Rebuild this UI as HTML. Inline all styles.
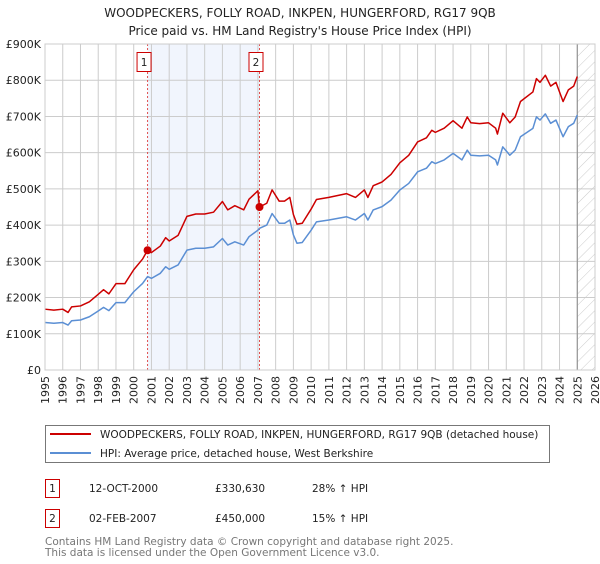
<!DOCTYPE html>
<html><head><meta charset="utf-8"><style>
body{margin:0;background:#fff;font-family:"DejaVu Sans","Liberation Sans",sans-serif;}
svg text{font-family:"DejaVu Sans","Liberation Sans",sans-serif;}
</style></head><body>
<svg id="chart" width="600" height="560" xmlns="http://www.w3.org/2000/svg">
<defs><pattern id="hatch" patternUnits="userSpaceOnUse" width="8" height="8" patternTransform="rotate(45)"><line x1="0" y1="0" x2="0" y2="8" stroke="#ccc" stroke-width="1"/></pattern></defs>
<text x="300" y="17" font-size="12" text-anchor="middle" fill="#222">WOODPECKERS, FOLLY ROAD, INKPEN, HUNGERFORD, RG17 9QB</text>
<text x="300" y="35" font-size="12" text-anchor="middle" fill="#222">Price paid vs. HM Land Registry's House Price Index (HPI)</text>
<g id="plot"></g>
<g>
<rect x="45.5" y="425.5" width="504" height="37" fill="#fff" stroke="#777"/>
<line x1="50" y1="434" x2="91" y2="434" stroke="#cc0000" stroke-width="2"/>
<text x="100" y="438" font-size="10.5" fill="#222">WOODPECKERS, FOLLY ROAD, INKPEN, HUNGERFORD, RG17 9QB (detached house)</text>
<line x1="50" y1="453" x2="91" y2="453" stroke="#5b8fd4" stroke-width="2"/>
<text x="100" y="457" font-size="10.5" fill="#222">HPI: Average price, detached house, West Berkshire</text>
</g>
<g font-size="10.5" fill="#222">
<rect x="45.5" y="479.5" width="14" height="18" fill="#fff" stroke="#cc0000"/>
<text x="52.5" y="492" text-anchor="middle">1</text>
<text x="89" y="492">12-OCT-2000</text><text x="215" y="492">£330,630</text><text x="312" y="492">28% ↑ HPI</text>
</g>
<g font-size="10.5" fill="#222">
<rect x="45.5" y="509.5" width="14" height="18" fill="#fff" stroke="#cc0000"/>
<text x="52.5" y="522" text-anchor="middle">2</text>
<text x="89" y="522">02-FEB-2007</text><text x="215" y="522">£450,000</text><text x="312" y="522">15% ↑ HPI</text>
</g>
<text x="45" y="545" font-size="10.5" fill="#777">Contains HM Land Registry data © Crown copyright and database right 2025.</text>
<text x="45" y="556" font-size="10.5" fill="#777">This data is licensed under the Open Government Licence v3.0.</text>
</svg>
<script>
const hpiYears=[1995,1995.5,1996,1996.3,1996.5,1997,1997.5,1998,1998.3,1998.6,1999,1999.5,2000,2000.5,2000.78,2001,2001.5,2001.8,2002,2002.5,2003,2003.5,2004,2004.5,2005,2005.3,2005.7,2006.2,2006.5,2007,2007.09,2007.5,2007.8,2008.2,2008.5,2008.8,2009,2009.2,2009.5,2010,2010.3,2011,2012,2012.5,2013,2013.2,2013.5,2014,2014.5,2015,2015.5,2016,2016.5,2016.8,2017,2017.5,2018,2018.5,2018.8,2019,2019.5,2020,2020.4,2020.5,2020.8,2021.2,2021.5,2021.8,2022.5,2022.7,2022.9,2023.2,2023.5,2023.8,2024.2,2024.5,2024.8,2025];
const hpiValues=[131,129,131,124,136,138,147,163,173,164,186,186,216,239,258,253,267,285,278,290,331,336,336,340,363,345,354,345,368,386,391,400,432,405,405,414,373,350,352,386,409,414,423,414,432,414,442,451,469,497,515,547,557,575,570,580,598,580,607,593,591,593,580,566,616,593,607,644,667,699,690,707,681,690,644,672,681,704];
const saleYears=[2000.78,2007.09];
const salePrices=[330.63,450];
const saleLabels=["1","2"];
const yTicks=[0,100,200,300,400,500,600,700,800,900];
const yTickLabels=["£0","£100K","£200K","£300K","£400K","£500K","£600K","£700K","£800K","£900K"];
const xTicks=[1995,1996,1997,1998,1999,2000,2001,2002,2003,2004,2005,2006,2007,2008,2009,2010,2011,2012,2013,2014,2015,2016,2017,2018,2019,2020,2021,2022,2023,2024,2025,2026];
const dataEnd=2025.0;

const L=45,R=595,T=44,B=370,X0=1995,X1=2026,YMAX=900;
const xs=v=>L+(v-X0)/(X1-X0)*(R-L);
const ys=v=>B-v/YMAX*(B-T);
const NS="http://www.w3.org/2000/svg";
const g=document.getElementById('plot');
function el(t,a,p){const e=document.createElementNS(NS,t);for(const k in a)e.setAttribute(k,a[k]);(p||g).appendChild(e);return e;}

let e=el('rect',{x:xs(saleYears[0]),y:T,width:xs(saleYears[1])-xs(saleYears[0]),height:B-T,fill:'#f1f5fd'});


e=el('rect',{x:xs(dataEnd),y:T,width:R-xs(dataEnd),height:B-T,fill:'url(#hatch)'});


yTicks.forEach((v,i)=>{
  el('line',{x1:L,x2:R,y1:ys(v),y2:ys(v),stroke:'#ccc','stroke-width':1});
  const t=el('text',{x:L-4,y:ys(v)+4,'font-size':11,'text-anchor':'end',fill:'#222'});t.textContent=yTickLabels[i];
  
  
});
xTicks.forEach(v=>{
  el('line',{x1:xs(v),x2:xs(v),y1:T,y2:B,stroke:'#ccc','stroke-width':1});
  const t=el('text',{x:0,y:0,'font-size':11,'text-anchor':'end',fill:'#222',transform:`translate(${xs(v)+4},${B+6}) rotate(-90)`});t.textContent=v;
  
  
});
e=el('line',{x1:xs(dataEnd),x2:xs(dataEnd),y1:T,y2:B,stroke:'#888','stroke-width':1});


saleYears.forEach((s,i)=>{
  const l=el('line',{x1:xs(s),x2:xs(s),y1:T,y2:B,stroke:'#e05050','stroke-width':1,'stroke-dasharray':'2,2'});
  
  
  const b=el('rect',{x:xs(s)-10.5,y:52.5,width:14,height:19,fill:'#fff',stroke:'#cc0000'});
  
  
  const t=el('text',{x:xs(s)-3.5,y:66,'font-size':10.5,'text-anchor':'middle',fill:'#222'});t.textContent=saleLabels[i];
});
function hpiAt(y){for(let i=1;i<hpiYears.length;i++){if(y<=hpiYears[i]){const f=(y-hpiYears[i-1])/(hpiYears[i]-hpiYears[i-1]);return hpiValues[i-1]+f*(hpiValues[i]-hpiValues[i-1]);}}return hpiValues[hpiValues.length-1];}
const r1=salePrices[0]/hpiAt(saleYears[0]), r2=salePrices[1]/hpiAt(saleYears[1]);
let hp='',rp='';
hpiYears.forEach((y,i)=>{
  const v=hpiValues[i];
  hp+=(i?'L':'M')+xs(y)+','+ys(v);
  const rv=v*(y<saleYears[1]?r1:r2);
  rp+=(i?'L':'M')+xs(y)+','+ys(rv);
});
e=el('path',{d:hp,fill:'none',stroke:'#5b8fd4','stroke-width':1.5,'stroke-linejoin':'round'});


e=el('path',{d:rp,fill:'none',stroke:'#cc0000','stroke-width':1.5,'stroke-linejoin':'round'});


saleYears.forEach((s,i)=>{
  const c=el('circle',{cx:xs(s),cy:ys(salePrices[i]),r:4,fill:'#cc0000'});
  
  
});
el('rect',{x:L,y:T,width:R-L,height:B-T,fill:'none',stroke:'#ccc'});
</script>
</body></html>
